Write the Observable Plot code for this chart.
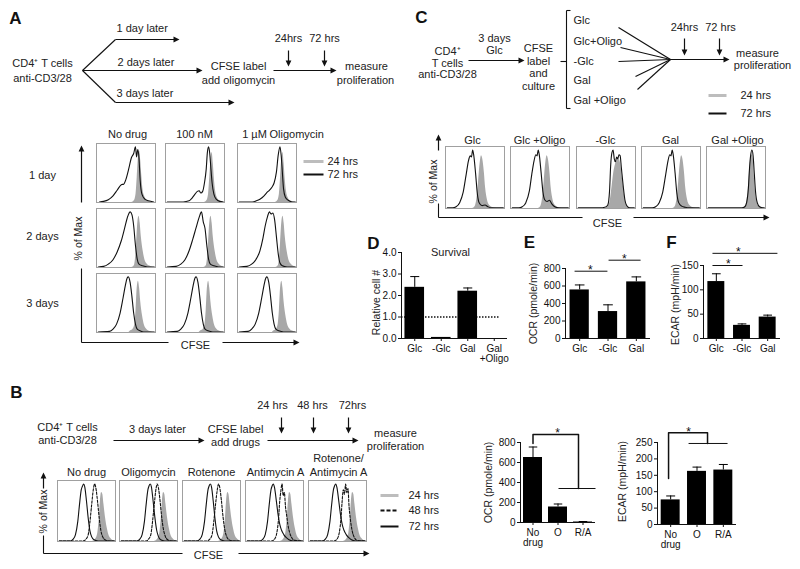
<!DOCTYPE html>
<html><head><meta charset="utf-8">
<script src="https://cdn.jsdelivr.net/npm/d3@7"></script>
<script src="https://cdn.jsdelivr.net/npm/@observablehq/plot@0.6"></script>
<style>
body{margin:0;background:#fff;}
#fig{position:relative;width:800px;height:569px;overflow:hidden;background:#fff;}
#fig svg{position:absolute;overflow:visible;background:transparent;font-family:Arial,"Liberation Sans",Helvetica,sans-serif;font-size:10px;color:#111;}
</style></head><body><div id="fig"></div>
<script>
// ---------------- DATA ----------------
// Bar charts
const survCats = ["Glc","-Glc","Gal","Gal\n+Oligo"];
const survVals = [2.38, 0.05, 2.2, 0];
const survErr  = [0.5, 0, 0.15, 0];
const ocrCats  = ["Glc","-Glc","Gal"];
const ocrVals  = [555, 308, 647];
const ocrErr   = [57, 77, 57];
const ecarCats = ["Glc","-Glc","Gal"];
const ecarVals = [117, 27, 44];
const ecarErr  = [16, 3, 4];
const bOcrCats = ["No\ndrug","O","R/A"];
const bOcrVals = [650, 155, 5];
const bOcrErr  = [105, 30, 5];
const bEcarCats = ["No\ndrug","O","R/A"];
const bEcarVals = [75, 162, 166];
const bEcarErr  = [12, 13, 17];

// Panel A histograms (CFSE position 0-100, % of Max)
const A11k = [[5,1],[12,2],[20,5],[28,12],[35,22],[42,32],[46,33],[50,42],[55,62],[59,80],[63,88],[66,100],[68,82],[70,95],[72,80],[74,40],[77,15],[82,6],[88,3],[97,1]];
const A11g = [[60,0],[64,3],[67,15],[69,45],[71,80],[73,92],[75,75],[77,45],[79,22],[82,10],[86,4],[92,1],[100,0]];
const A12k = [[3,1],[30,1],[40,3],[45,8],[50,15],[54,20],[57,21],[60,17],[63,20],[66,35],[69,60],[71,90],[73,100],[75,88],[77,60],[79,35],[82,15],[86,6],[92,2],[98,1]];
const A12g = [[66,0],[70,3],[73,15],[75,45],[77,75],[79,90],[81,70],[83,40],[85,20],[88,8],[92,3],[100,0]];
const A13k = [[3,1],[25,1],[32,3],[38,6],[45,12],[50,18],[54,22],[58,27],[62,35],[66,55],[69,85],[72,100],[74,85],[76,55],[78,25],[81,10],[86,4],[93,1],[98,1]];
const A13g = [[64,0],[68,3],[71,15],[73,45],[75,78],[77,90],[79,70],[81,40],[83,20],[86,8],[90,3],[100,0]];
const A21k = [[3,1],[12,2],[20,6],[28,14],[35,28],[42,48],[48,72],[53,92],[57,100],[60,95],[63,75],[66,40],[69,15],[72,6],[78,3],[86,1],[98,1]];
const A21g = [[60,0],[64,3],[66,15],[68,45],[70,80],[72,92],[74,80],[76,55],[79,30],[82,14],[86,6],[92,2],[100,0]];
const A22k = [[3,1],[18,2],[26,6],[33,14],[40,30],[46,50],[52,72],[57,90],[61,100],[64,82],[67,70],[70,40],[73,15],[76,6],[82,3],[90,1],[98,1]];
const A22g = [[65,0],[69,3],[71,15],[73,45],[75,80],[77,92],[79,80],[81,55],[84,30],[87,14],[91,6],[96,2],[100,0]];
const A23k = [[3,1],[16,2],[24,6],[31,14],[38,30],[43,52],[47,75],[51,92],[54,100],[57,96],[60,98],[63,85],[66,55],[69,25],[72,8],[76,3],[84,1],[98,1]];
const A23g = [[65,0],[69,3],[71,15],[73,45],[75,80],[77,92],[79,80],[81,55],[84,30],[87,14],[91,6],[96,2],[100,0]];
const A31k = [[3,1],[22,2],[28,6],[34,15],[40,35],[45,62],[49,85],[52,98],[54,100],[57,90],[60,65],[63,35],[66,15],[69,6],[74,3],[80,1],[98,1]];
const A31g = [[55,0],[58,3],[62,6],[65,15],[67,40],[69,80],[71,92],[73,80],[75,55],[78,30],[81,14],[85,6],[91,2],[100,0]];
const A32k = [[3,1],[20,2],[26,6],[32,15],[38,35],[43,62],[47,85],[50,98],[52,100],[55,90],[58,65],[61,35],[64,15],[67,6],[72,3],[80,1],[98,1]];
const A32g = [[57,0],[60,3],[64,6],[67,15],[69,40],[71,80],[73,92],[75,80],[77,55],[80,30],[83,14],[87,6],[93,2],[100,0]];
const A33k = [[3,1],[18,2],[24,6],[30,15],[36,35],[41,62],[45,85],[48,98],[50,100],[53,90],[56,65],[59,35],[62,15],[65,6],[70,3],[78,1],[98,1]];
const A33g = [[59,0],[62,3],[66,6],[69,15],[71,40],[73,80],[75,92],[77,80],[79,55],[82,30],[85,14],[89,6],[95,2],[100,0]];

// Panel B histograms: 72 hrs solid, 48 hrs dashed, 24 hrs gray
const B1k = [[3,1],[22,1],[27,4],[31,12],[35,35],[38,65],[41,90],[43,96],[45,100],[47,95],[50,70],[53,40],[56,18],[59,8],[63,3],[70,1],[98,1]];
const B1d = [[3,1],[44,1],[49,4],[53,12],[56,35],[59,65],[62,92],[64,100],[66,94],[69,70],[72,40],[75,18],[78,8],[82,3],[88,1],[98,1]];
const B1g = [[60,0],[65,3],[69,12],[72,40],[74,70],[76,85],[78,82],[80,65],[83,40],[86,22],[89,10],[93,4],[100,0]];
const B2k = [[3,1],[30,1],[35,4],[39,12],[43,35],[46,65],[49,90],[51,97],[53,100],[55,95],[58,70],[61,42],[64,20],[67,9],[71,3],[78,1],[98,1]];
const B2d = [[3,1],[46,1],[50,4],[54,12],[57,35],[60,65],[63,92],[65,100],[67,94],[70,70],[73,40],[76,20],[79,9],[83,3],[89,1],[98,1]];
const B2g = [[60,0],[65,3],[69,12],[72,40],[74,70],[76,85],[78,82],[80,65],[83,40],[86,22],[89,10],[93,4],[100,0]];
const B3k = [[3,1],[25,1],[30,4],[34,12],[38,35],[41,65],[44,90],[46,97],[48,100],[50,95],[53,70],[56,40],[59,18],[62,8],[66,3],[73,1],[98,1]];
const B3d = [[3,1],[42,1],[47,4],[51,12],[54,35],[57,65],[60,90],[62,100],[64,95],[67,72],[70,42],[73,20],[76,9],[80,3],[86,1],[98,1]];
const B3g = [[62,0],[67,3],[71,12],[74,40],[76,70],[78,85],[80,82],[82,65],[85,40],[88,22],[91,10],[95,4],[100,0]];
const B4k = [[3,1],[25,1],[30,4],[34,12],[38,35],[41,65],[44,90],[46,97],[48,100],[50,94],[53,72],[56,48],[59,30],[62,20],[66,12],[70,7],[75,3],[82,1],[98,1]];
const B4d = [[3,1],[45,1],[50,4],[54,15],[57,40],[59,70],[61,88],[63,100],[65,80],[67,85],[69,60],[71,45],[73,30],[76,16],[80,6],[85,2],[98,1]];
const B4g = [[60,0],[65,3],[69,12],[72,40],[74,70],[76,85],[78,82],[80,65],[83,40],[86,22],[89,10],[93,4],[100,0]];
const B5k = [[3,1],[24,1],[29,4],[33,12],[37,35],[40,65],[43,90],[45,97],[47,100],[49,94],[52,72],[55,48],[58,30],[61,20],[65,12],[69,7],[74,3],[81,1],[98,1]];
const B5d = [[3,1],[44,1],[49,4],[53,15],[56,40],[58,70],[60,90],[62,82],[64,100],[66,85],[68,92],[70,60],[72,40],[75,20],[79,7],[84,2],[98,1]];
const B5g = [[60,0],[65,3],[69,12],[72,40],[74,70],[76,85],[78,82],[80,65],[83,40],[86,22],[89,10],[93,4],[100,0]];

// Panel C histograms
const C1k = [[3,1],[12,1],[18,3],[24,10],[30,28],[35,58],[39,82],[42,90],[44,88],[46,100],[48,90],[51,60],[54,25],[57,10],[62,5],[67,6],[72,3],[78,1],[98,1]];
const C1g = [[46,0],[50,3],[53,15],[56,45],[59,80],[61,90],[63,85],[66,60],[68,35],[71,15],[75,5],[82,1],[92,0]];
const C2k = [[3,1],[14,1],[20,3],[26,10],[32,30],[36,58],[40,82],[43,92],[45,90],[47,100],[49,90],[52,60],[55,28],[58,15],[62,12],[66,14],[70,8],[75,3],[82,1],[98,1]];
const C2g = [[47,0],[51,3],[54,15],[57,45],[60,80],[62,90],[64,85],[67,60],[69,35],[72,15],[76,5],[83,1],[93,0]];
const C3k = [[3,1],[40,1],[48,2],[53,6],[56,30],[58,75],[60,95],[62,100],[64,85],[66,80],[68,88],[70,85],[72,92],[74,90],[76,70],[79,40],[82,15],[85,5],[90,1],[98,1]];
const C3g = [[48,0],[53,3],[57,12],[60,35],[63,60],[66,75],[69,82],[72,85],[75,75],[78,50],[81,25],[84,8],[88,2],[94,0]];
const C4k = [[3,1],[18,1],[24,3],[30,10],[36,28],[41,58],[45,82],[48,92],[50,90],[52,100],[54,90],[57,60],[60,25],[63,10],[68,4],[74,2],[80,1],[98,1]];
const C4g = [[53,0],[57,3],[60,15],[63,45],[66,80],[68,90],[70,85],[73,60],[75,35],[78,15],[82,5],[89,1],[98,0]];
const C5k = [[3,1],[55,1],[60,1],[65,3],[68,10],[71,35],[73,70],[75,92],[77,100],[79,90],[81,60],[83,30],[86,10],[90,3],[96,1],[98,1]];
const C5g = [[60,0],[65,3],[68,10],[71,35],[73,65],[75,85],[77,92],[79,85],[81,55],[83,28],[86,10],[90,3],[96,0]];

// ---------------- LAYOUT ----------------
const fig = document.getElementById("fig");
const FONT = 'Arial, "Liberation Sans", Helvetica, sans-serif';
const STYLE = {fontFamily: FONT, fontSize: "10px", overflow: "visible", background: "transparent"};
function place(svg, left, top) {
  svg.style.position = "absolute";
  svg.style.left = left + "px";
  svg.style.top = top + "px";
  fig.append(svg);
}

const centerTexts = [
  {x:42,y:63,t:"CD4⁺ T cells"},{x:42,y:78,t:"anti-CD3/28"},
  {x:238,y:66,t:"CFSE label"},{x:238,y:80,t:"add oligomycin"},
  {x:288,y:38,t:"24hrs"},{x:324,y:38,t:"72 hrs"},
  {x:366,y:66,t:"measure"},{x:365,y:80,t:"proliferation"},
  {x:127,y:134,t:"No drug"},{x:194,y:134,t:"100 nM"},{x:254,y:134,t:"1 µM"},
  {x:42,y:175,t:"1 day"},{x:42,y:236,t:"2 days"},{x:42,y:303,t:"3 days"},
  {x:195,y:345,t:"CFSE"},
  {x:447,y:51,t:"CD4⁺"},{x:447,y:62.5,t:"T cells"},{x:447,y:74,t:"anti-CD3/28"},
  {x:494,y:38,t:"3 days"},{x:494,y:50,t:"Glc"},
  {x:538,y:48,t:"CFSE"},{x:538,y:60.5,t:"label"},{x:538,y:73,t:"and"},{x:538,y:85.5,t:"culture"},
  {x:684,y:27,t:"24hrs"},{x:720,y:27,t:"72 hrs"},
  {x:757,y:53,t:"measure"},{x:762,y:65,t:"proliferation"},
  {x:472,y:140,t:"Glc"},{x:539,y:140,t:"Glc +Oligo"},{x:605,y:140,t:"-Glc"},{x:670,y:140,t:"Gal"},{x:737,y:140,t:"Gal +Oligo"},
  {x:607,y:223,t:"CFSE"},
  {x:450,y:252,t:"Survival"},
  {x:67,y:427,t:"CD4⁺ T cells"},{x:67,y:440,t:"anti-CD3/28"},
  {x:157,y:429,t:"3 days later"},
  {x:235,y:429,t:"CFSE label"},{x:235,y:442,t:"add drugs"},
  {x:272,y:405,t:"24 hrs"},{x:312,y:405,t:"48 hrs"},{x:352,y:405,t:"72hrs"},
  {x:395,y:433,t:"measure"},{x:395,y:446,t:"proliferation"},
  {x:86,y:472,t:"No drug"},{x:148,y:472,t:"Oligomycin"},{x:211,y:472,t:"Rotenone"},{x:275,y:472,t:"Antimycin A"},
  {x:338,y:458,t:"Rotenone/"},{x:338,y:472,t:"Antimycin A"},
  {x:208,y:555,t:"CFSE"}
];
const startTexts = [
  {x:116,y:28,t:"1 day later"},{x:117,y:62,t:"2 days later"},{x:116,y:93,t:"3 days later"},
  {x:269,y:134,t:"Oligomycin"},
  {x:327,y:161,t:"24 hrs"},{x:327,y:174,t:"72 hrs"},
  {x:573,y:20,t:"Glc"},{x:573,y:41,t:"Glc+Oligo"},{x:573,y:61,t:"-Glc"},{x:573,y:80,t:"Gal"},{x:573,y:100,t:"Gal +Oligo"},
  {x:740,y:95,t:"24 hrs"},{x:740,y:113,t:"72 hrs"},
  {x:408,y:495,t:"24 hrs"},{x:408,y:510,t:"48 hrs"},{x:408,y:526,t:"72 hrs"}
];
const letters = [
  {x:15,y:18,t:"A"},{x:16,y:392,t:"B"},{x:421,y:17,t:"C"},{x:373,y:243,t:"D"},{x:529,y:242,t:"E"},{x:671,y:242,t:"F"}
];
const rotTexts = [
  {x:78,y:238,t:"% of Max"},{x:433,y:181,t:"% of Max"},{x:43,y:511,t:"% of Max"},
  {x:376,y:302,t:"Relative cell #"},{x:533,y:303,t:"OCR (pmole/min)"},{x:675,y:304,t:"ECAR (mpH/min)"},
  {x:488,y:482,t:"OCR (pmole/min)"},{x:622,y:481,t:"ECAR (mpH/min)"}
];
const arrows = [
  {x1:115,y1:39,x2:177,y2:39},{x1:82,y1:70,x2:200,y2:70},{x1:115,y1:102,x2:232,y2:102},
  {x1:273,y1:70,x2:334,y2:70},{x1:288,y1:50,x2:288,y2:64},{x1:324,y1:50,x2:324,y2:64},
  {x1:81,y1:202,x2:81,y2:147},{x1:222,y1:342,x2:297,y2:342},
  {x1:468,y1:60,x2:522,y2:60},{x1:670,y1:59,x2:727,y2:59},{x1:684,y1:38,x2:684,y2:53},{x1:719,y1:38,x2:719,y2:53},
  {x1:438,y1:150,x2:438,y2:136},{x1:633,y1:217,x2:767,y2:217},
  {x1:113,y1:440,x2:202,y2:440},{x1:267,y1:440,x2:356,y2:440},
  {x1:281,y1:417,x2:281,y2:431},{x1:313,y1:417,x2:313,y2:431},{x1:348,y1:417,x2:348,y2:431},
  {x1:43,y1:488,x2:43,y2:474},{x1:238,y1:553,x2:367,y2:553}
];
const links = [
  {x1:82,y1:70,x2:115,y2:39},{x1:82,y1:70,x2:115,y2:102},
  {x1:81,y1:342,x2:81,y2:268},{x1:81,y1:342,x2:168,y2:342},
  {x1:560,y1:61,x2:566,y2:61},{x1:566,y1:10,x2:566,y2:108},{x1:566,y1:10,x2:570,y2:10},{x1:566,y1:108,x2:570,y2:108},
  {x1:618,y1:27,x2:670,y2:59},{x1:620,y1:47,x2:670,y2:59},{x1:618,y1:61,x2:670,y2:59},{x1:635,y1:76,x2:670,y2:59},{x1:637,y1:89,x2:670,y2:59},
  {x1:438,y1:203,x2:438,y2:217},{x1:438,y1:217,x2:582,y2:217},
  {x1:43,y1:535,x2:43,y2:553},{x1:43,y1:553,x2:182,y2:553}
];
const legGray = [{x1:303,y1:161,x2:323,y2:161},{x1:708,y1:95,x2:726,y2:95},{x1:380,y1:495,x2:398,y2:495}];
const legBlack = [{x1:303,y1:174,x2:323,y2:174},{x1:708,y1:113,x2:726,y2:113},{x1:380,y1:526,x2:398,y2:526}];
const legDash = [{x1:380,y1:510,x2:398,y2:510}];

const seg = {x1:"x1",y1:"y1",x2:"x2",y2:"y2"};
const page = Plot.plot({
  width: 800, height: 569, margin: 0,
  x: {domain: [0, 800], range: [0, 800]},
  y: {domain: [0, 569], range: [0, 569]},
  axis: null, style: STYLE,
  marks: [
    Plot.link(links, {...seg, stroke: "#111", strokeWidth: 1.1}),
    Plot.link(arrows, {...seg, stroke: "#111", strokeWidth: 1.2, markerEnd: "arrow"}),
    Plot.link(legGray, {...seg, stroke: "#bdbdbd", strokeWidth: 3}),
    Plot.link(legBlack, {...seg, stroke: "#111", strokeWidth: 2}),
    Plot.link(legDash, {...seg, stroke: "#111", strokeWidth: 2, strokeDasharray: "4,2"}),
    Plot.text(centerTexts, {x: "x", y: "y", text: "t", fontSize: 11, fill: "#222"}),
    Plot.text(startTexts, {x: "x", y: "y", text: "t", fontSize: 11, fill: "#222", textAnchor: "start"}),
    Plot.text(letters, {x: "x", y: "y", text: "t", fontSize: 17, fontWeight: "bold", fill: "#111"}),
    Plot.text(rotTexts, {x: "x", y: "y", text: "t", fontSize: 10.5, fill: "#222", rotate: -90})
  ]
});
// solid triangular arrowheads (style only)
page.querySelectorAll("marker").forEach(m => {
  m.setAttribute("overflow", "visible");
  const p = m.querySelector("path");
  if (p) { p.setAttribute("d", "M-5,-3.6L2.5,0L-5,3.6Z"); p.setAttribute("fill", "#111"); p.setAttribute("stroke", "none"); }
});
place(page, 0, 0);

// Histogram panels
function hist(left, top, w, h, gray, lines) {
  const marks = [];
  if (gray) marks.push(Plot.areaY(gray, {x: d => d[0], y: d => d[1], fill: "#a8a8a8", curve: "monotone-x"}));
  for (const L of lines) marks.push(Plot.line(L.data, {x: d => d[0], y: d => d[1], stroke: "#111", strokeWidth: 1.1, strokeDasharray: L.dash, curve: "monotone-x"}));
  marks.push(Plot.frame({stroke: "#a0a0a0"}));
  const svg = Plot.plot({width: w, height: h, margin: 0, x: {domain: [0, 100]}, y: {domain: [0, 106]}, axis: null, style: STYLE, marks});
  place(svg, left, top);
}
const aLeft = [96, 165, 237], aTop = [143, 208, 273];
const aK = [[A11k, A12k, A13k], [A21k, A22k, A23k], [A31k, A32k, A33k]];
const aG = [[A11g, A12g, A13g], [A21g, A22g, A23g], [A31g, A32g, A33g]];
for (let r = 0; r < 3; r++) for (let c = 0; c < 3; c++) hist(aLeft[c], aTop[r], 59, 59, aG[r][c], [{data: aK[r][c]}]);

const bLeft = [57, 119, 182, 245, 308];
const bK = [B1k, B2k, B3k, B4k, B5k], bD = [B1d, B2d, B3d, B4d, B5d], bG = [B1g, B2g, B3g, B4g, B5g];
for (let i = 0; i < 5; i++) hist(bLeft[i], 480, 58, 61, bG[i], [{data: bD[i], dash: "2.5,1.5"}, {data: bK[i]}]);

const cLeft = [445, 510, 576, 641, 706];
const cK = [C1k, C2k, C3k, C4k, C5k], cG = [C1g, C2g, C3g, C4g, C5g];
for (let i = 0; i < 5; i++) hist(cLeft[i], 146, 59, 62, cG[i], [{data: cK[i]}]);

// Bar charts
function barChart({cats, vals, errs, left, top, width, height, ml, mr, mt, mb, yDomain, yTicks, hw, cap, before = [], extra = []}) {
  const data = cats.map((c, i) => ({i, c, v: vals[i], e: errs[i]}));
  const withErr = data.filter(d => d.e > 0);
  const svg = Plot.plot({
    width, height, marginLeft: ml, marginRight: mr, marginTop: mt, marginBottom: mb,
    style: STYLE,
    x: {domain: [-0.5, cats.length - 0.5], ticks: cats.map((c, i) => i), tickFormat: i => cats[i], tickSize: 3, tickPadding: 3, label: null},
    y: {domain: yDomain, ticks: yTicks, tickSize: 3, tickPadding: 2, label: null},
    marks: [
      ...before,
      Plot.ruleX(withErr, {x: "i", y1: "v", y2: d => d.v + d.e, stroke: "#000"}),
      Plot.link(withErr, {x1: d => d.i - cap, x2: d => d.i + cap, y1: d => d.v + d.e, y2: d => d.v + d.e, stroke: "#000"}),
      Plot.rectY(data, {x1: d => d.i - hw, x2: d => d.i + hw, y: "v", fill: "#000"}),
      Plot.ruleY([yDomain[0]], {stroke: "#111"}),
      Plot.ruleX([-0.5], {stroke: "#111"}),
      ...extra
    ]
  });
  place(svg, left, top);
}
const brk = {x1: "x1", x2: "x2", y1: "y1", y2: "y2", stroke: "#111", strokeWidth: 1};
const star = {x: "x", y: "y", text: () => "*", fontSize: 12, dy: -1, fill: "#111"};

// D Survival
barChart({cats: survCats, vals: survVals, errs: survErr, left: 370, top: 240, width: 145, height: 135,
  ml: 31, mr: 8, mt: 12, mb: 37, yDomain: [0, 4], yTicks: [0, 1, 2, 3, 4], hw: 0.37, cap: 0.17,
  before: [Plot.ruleY([1], {x1: -0.5, x2: 3.2, stroke: "#111", strokeDasharray: "1.5,1.5", strokeWidth: 1.3})]});

// E OCR
barChart({cats: ocrCats, vals: ocrVals, errs: ocrErr, left: 530, top: 255, width: 125, height: 120,
  ml: 35, mr: 5, mt: 13, mb: 37, yDomain: [0, 800], yTicks: [0, 200, 400, 600, 800], hw: 0.34, cap: 0.17,
  extra: [
    Plot.link([{x1: -0.18, x2: 0.98, y1: 769, y2: 769}, {x1: 1.02, x2: 2.15, y1: 895, y2: 895}], brk),
    Plot.text([{x: 0.38, y: 769}, {x: 1.58, y: 895}], star)
  ]});

// F ECAR
barChart({cats: ecarCats, vals: ecarVals, errs: ecarErr, left: 675, top: 250, width: 110, height: 125,
  ml: 28, mr: 5, mt: 15, mb: 37, yDomain: [0, 150], yTicks: [0, 50, 100, 150], hw: 0.33, cap: 0.17,
  extra: [
    Plot.link([{x1: -0.15, x2: 1.02, y1: 150, y2: 150}, {x1: -0.15, x2: 2.38, y1: 175, y2: 175}], brk),
    Plot.text([{x: 0.47, y: 150}, {x: 0.86, y: 175}], star)
  ]});

// B OCR
barChart({cats: bOcrCats, vals: bOcrVals, errs: bOcrErr, left: 490, top: 425, width: 110, height: 140,
  ml: 30, mr: 5, mt: 17, mb: 43, yDomain: [0, 800], yTicks: [0, 200, 400, 600, 800], hw: 0.38, cap: 0.17,
  extra: [
    Plot.line([{x: 0, y: 790}, {x: 0, y: 880}, {x: 1.82, y: 880}, {x: 1.82, y: 340}], {x: "x", y: "y", stroke: "#111"}),
    Plot.link([{x1: 1.02, x2: 2.5, y1: 340, y2: 340}], brk),
    Plot.text([{x: 0.98, y: 880}], star)
  ]});

// B ECAR
barChart({cats: bEcarCats, vals: bEcarVals, errs: bEcarErr, left: 625, top: 425, width: 115, height: 142,
  ml: 32, mr: 4, mt: 17, mb: 43, yDomain: [0, 250], yTicks: [0, 50, 100, 150, 200, 250], hw: 0.36, cap: 0.17,
  extra: [
    Plot.line([{x: -0.08, y: 140}, {x: -0.08, y: 280}, {x: 1.4, y: 280}, {x: 1.4, y: 247}], {x: "x", y: "y", stroke: "#111"}),
    Plot.link([{x1: 0.68, x2: 2.16, y1: 247, y2: 247}], brk),
    Plot.text([{x: 0.68, y: 280}], star)
  ]});
</script></body></html>
